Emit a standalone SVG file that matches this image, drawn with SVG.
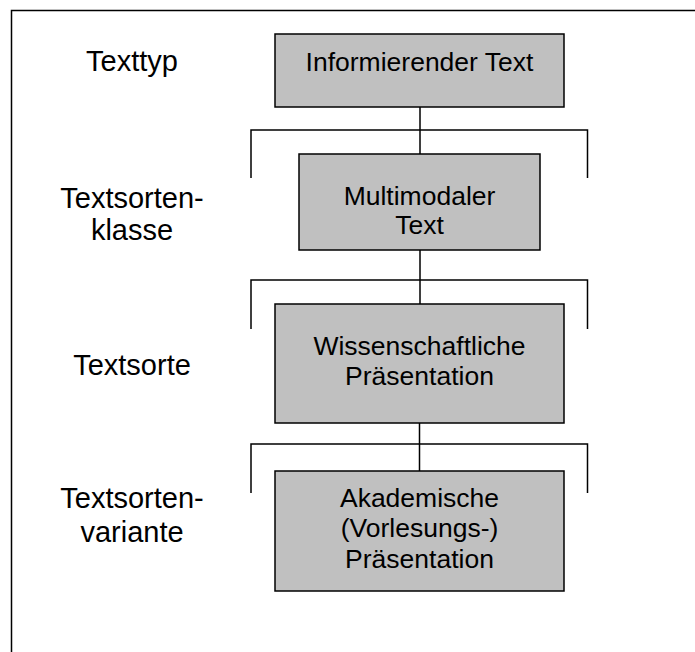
<svg xmlns="http://www.w3.org/2000/svg" width="695" height="652" viewBox="0 0 695 652">
<style>
.frame{fill:none;stroke:#000;stroke-width:1.5}
.box{fill:#c0c0c0;stroke:#000;stroke-width:1.5}
.conn{fill:none;stroke:#000;stroke-width:1.5}
.lbl{font-family:"Liberation Sans",Arial,sans-serif;font-size:29px;fill:#000;text-anchor:middle}
.bt{font-family:"Liberation Sans",Arial,sans-serif;font-size:26.5px;fill:#000;text-anchor:middle}
</style>
<rect width="695" height="652" fill="#fff"/>
<rect class="frame" x="11.5" y="10.5" width="700" height="660"/>
<g id="labels">
<text class="lbl" x="132" y="71">Texttyp</text>
<text class="lbl" x="132" y="208">Textsorten-</text>
<text class="lbl" x="132" y="240">klasse</text>
<text class="lbl" x="132" y="375">Textsorte</text>
<text class="lbl" x="132" y="508">Textsorten-</text>
<text class="lbl" x="132" y="542">variante</text>
</g>
<g id="connectors">
<path class="conn" d="M420,107 V154 M251,178 V130 H587.5 V178"/>
<path class="conn" d="M420,250 V304 M251,329 V280 H587.5 V329"/>
<path class="conn" d="M419.5,423 V471 M251,493 V444 H587.5 V493"/>
</g>
<g id="n1">
<rect class="box" x="275" y="34" width="289" height="73"/>
<text class="bt" x="419.5" y="70.5">Informierender Text</text>
</g>
<g id="n2">
<rect class="box" x="299" y="154" width="241" height="96"/>
<text class="bt" x="419.5" y="205">Multimodaler</text>
<text class="bt" x="419.5" y="234">Text</text>
</g>
<g id="n3">
<rect class="box" x="275" y="304" width="289" height="119"/>
<text class="bt" x="419.5" y="355">Wissenschaftliche</text>
<text class="bt" x="419.5" y="385">Präsentation</text>
</g>
<g id="n4">
<rect class="box" x="275" y="471" width="289" height="120"/>
<text class="bt" x="419.5" y="507">Akademische</text>
<text class="bt" x="419.5" y="537">(Vorlesungs-)</text>
<text class="bt" x="419.5" y="568">Präsentation</text>
</g>
</svg>
